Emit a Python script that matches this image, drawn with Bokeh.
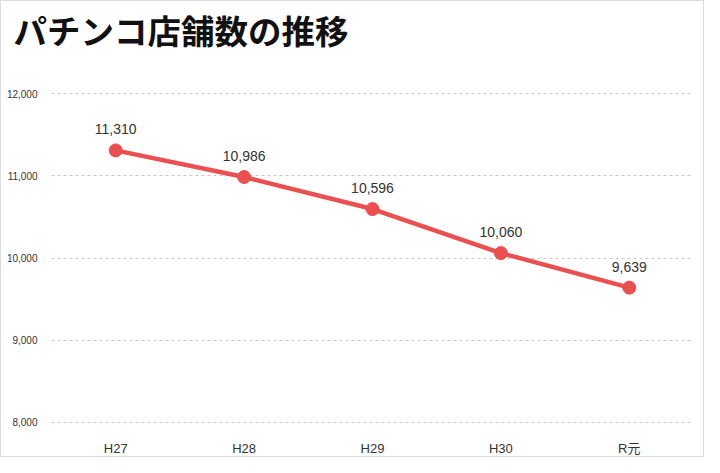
from bokeh.plotting import figure
from bokeh.models import ColumnDataSource, FixedTicker, NumeralTickFormatter, Range1d, Title
from bokeh.core.properties import value
from bokeh.embed import file_html
from bokeh.resources import INLINE

years = ["H27", "H28", "H29", "H30", "R元"]
stores = [11310, 10986, 10596, 10060, 9639]
labels = ["11,310", "10,986", "10,596", "10,060", "9,639"]
y_ticks = [8000, 9000, 10000, 11000, 12000]
title = "パチンコ店舗数の推移"

FONT = "Liberation Sans, Noto Sans CJK JP"
RED = "#e9504f"

src = ColumnDataSource(dict(x=years, y=stores, t=labels))

p = figure(width=704, height=457, x_range=years, y_range=Range1d(7985, 12015),
           output_backend="svg", toolbar_location=None,
           min_border_left=50, min_border_right=12, min_border_bottom=29, min_border_top=91)

p.title.text = title
p.title.text_font = "Noto Sans CJK JP"
p.title.text_font_size = "33.5px"
p.title.text_font_style = "bold"
p.title.text_color = "#111111"
p.title.align = "left"
p.title.offset = -38
p.title.standoff = 0
p.title.vertical_align = "bottom"

# spacer between title and frame
p.add_layout(Title(text=" ", text_font_size="1px", standoff=36), "above")

p.outline_line_color = None
p.background_fill_color = "white"
p.border_fill_color = "white"
p.styles = {"border": "1px solid #dcdcdc", "box-sizing": "border-box"}

p.xgrid.grid_line_color = None
p.ygrid.grid_line_color = "#c8c8c8"
p.ygrid.grid_line_dash = "3 3"
p.ygrid.grid_line_width = 1

p.yaxis.ticker = FixedTicker(ticks=y_ticks)
p.yaxis.formatter = NumeralTickFormatter(format="0,0")
for ax in (p.xaxis[0], p.yaxis[0]):
    ax.axis_line_color = None
    ax.major_tick_line_color = None
    ax.minor_tick_line_color = None
    ax.major_label_text_font = FONT
    ax.major_label_text_color = "#333333"
p.yaxis.major_label_text_font_size = "10px"
p.yaxis.major_label_standoff = 8
p.xaxis.major_label_text_font_size = "13px"
p.xaxis.major_label_standoff = 11

p.line("x", "y", source=src, line_color=RED, line_width=4.5)
p.scatter("x", "y", source=src, size=13, fill_color=RED, line_color=RED)
p.text("x", "y", text="t", source=src, text_font=value(FONT), text_font_size="14px",
       text_color="#333333", text_align="center", text_baseline="middle", y_offset=-21)

open("out.html", "w").write(file_html(p, INLINE))
